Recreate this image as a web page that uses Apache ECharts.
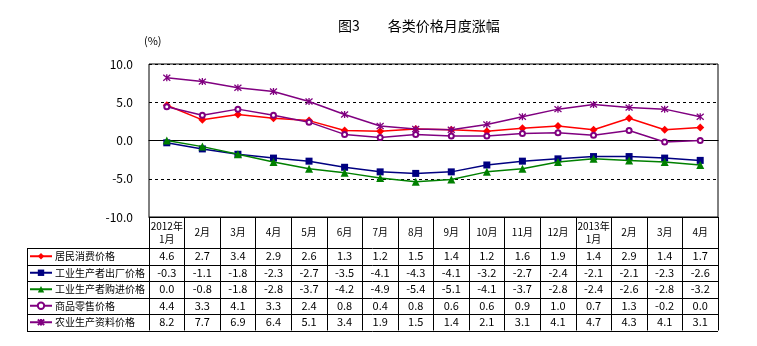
<!DOCTYPE html>
<html>
<head>
<meta charset="utf-8">
<script src="https://cdn.jsdelivr.net/npm/echarts@6/dist/echarts.min.js"></script>
<style>
  html, body { margin: 0; padding: 0; background: #fff; }
  #chart { width: 757px; height: 346px; }
</style>
</head>
<body>
<div id="chart"></div>
<script>
// Monthly year-on-year change of price indices, Jan 2012 – Apr 2013 (%)
const categories = ['2012年\n1月', '2月', '3月', '4月', '5月', '6月', '7月', '8月', '9月', '10月', '11月', '12月', '2013年\n1月', '2月', '3月', '4月'];

const seriesNames = ['居民消费价格', '工业生产者出厂价格', '工业生产者购进价格', '商品零售价格', '农业生产资料价格'];

const cpi    = [4.6, 2.7, 3.4, 2.9, 2.6, 1.3, 1.2, 1.5, 1.4, 1.2, 1.6, 1.9, 1.4, 2.9, 1.4, 1.7];
const ppi    = [-0.3, -1.1, -1.8, -2.3, -2.7, -3.5, -4.1, -4.3, -4.1, -3.2, -2.7, -2.4, -2.1, -2.1, -2.3, -2.6];
const ppirm  = [0.0, -0.8, -1.8, -2.8, -3.7, -4.2, -4.9, -5.4, -5.1, -4.1, -3.7, -2.8, -2.4, -2.6, -2.8, -3.2];
const retail = [4.4, 3.3, 4.1, 3.3, 2.4, 0.8, 0.4, 0.8, 0.6, 0.6, 0.9, 1.0, 0.7, 1.3, -0.2, 0.0];
const agri   = [8.2, 7.7, 6.9, 6.4, 5.1, 3.4, 1.9, 1.5, 1.4, 2.1, 3.1, 4.1, 4.7, 4.3, 4.1, 3.1];

const yTicks = [-10, -5, 0, 5, 10];

const allValues = [cpi, ppi, ppirm, retail, agri];

// layout of plot area and the data table beneath it
const W = 757, H = 346;
const plotLeft = 149, plotRight = 718, plotTop = 64, plotBottom = 217;
const headerH = 31;
const rowH = 16.5;
const tableLeft = 27;
const rowTop0 = plotBottom + headerH;
const tableBottom = rowTop0 + rowH * seriesNames.length;

const FONT = '"Noto Sans CJK SC", "Noto Sans", sans-serif';

const asterisk = 'path://M0,0L10,10M10,0L0,10M5,-1L5,11';

const styles = [
  { color: '#FF0000', symbol: 'diamond', size: 8 },
  { color: '#000080', symbol: 'rect', size: 7 },
  { color: '#008000', symbol: 'triangle', size: 8 },
  { color: '#800080', symbol: 'emptyCircle', size: 5 },
  { color: '#800080', symbol: asterisk, size: 7 }
];

const series = seriesNames.map((name, i) => {
  const st = styles[i];
  const s = {
    name: name,
    type: 'line',
    xAxisIndex: 0,
    yAxisIndex: 0,
    data: allValues[i],
    symbol: st.symbol,
    symbolSize: st.size,
    showAllSymbol: true,
    lineStyle: { color: st.color, width: 1.5, type: 'solid' },
    itemStyle: { color: st.color },
    animation: false,
    z: 3 + i
  };
  if (st.symbol === 'emptyCircle') {
    s.itemStyle = { color: st.color, borderWidth: 1 };
  }
  if (st.symbol === asterisk) {
    s.itemStyle = { color: st.color, borderColor: st.color, borderWidth: 1.3 };
  }
  return s;
});

// x axes: header row (with table grid ticks), zero line, and one label row per series
const xAxes = [
  {
    type: 'category',
    gridIndex: 0,
    data: categories,
    position: 'bottom',
    boundaryGap: true,
    axisLine: { onZero: false, lineStyle: { color: '#000', width: 1 } },
    axisTick: { show: true, length: tableBottom - plotBottom, lineStyle: { color: '#000', width: 1 } },
    axisLabel: {
      interval: 0, margin: headerH / 2, verticalAlign: 'middle',
      fontSize: 10, lineHeight: 13, color: '#000', fontFamily: FONT
    },
    splitLine: { show: false }
  },
  {
    type: 'category',
    gridIndex: 0,
    data: categories,
    position: 'bottom',
    axisLine: { onZero: true, lineStyle: { color: '#000', width: 1.2 } },
    axisTick: { show: false },
    axisLabel: { show: false },
    splitLine: { show: false }
  }
];

allValues.forEach((vals, i) => {
  xAxes.push({
    type: 'category',
    gridIndex: 0,
    data: vals.map(v => v.toFixed(1)),
    position: 'bottom',
    axisLine: { show: false, onZero: false },
    axisTick: { show: false },
    axisLabel: {
      interval: 0,
      margin: headerH + rowH * i + rowH / 2,
      verticalAlign: 'middle',
      fontSize: 11, color: '#000', fontFamily: FONT
    },
    splitLine: { show: false }
  });
});

// one legend per table row, sitting in the left column
const legends = seriesNames.map((name, i) => ({
  data: [name],
  left: tableLeft + 2,
  top: rowTop0 + rowH * i + (rowH - 12) / 2,
  padding: 0,
  orient: 'horizontal',
  itemWidth: 22,
  itemHeight: 8,
  itemGap: 0,
  selectedMode: false,
  textStyle: { fontSize: 10, lineHeight: 12, color: '#000', fontFamily: FONT, padding: [0, 0, 0, -2] }
}));

// horizontal rules and left edge of the data table
const tableLines = [];
for (let r = 0; r <= seriesNames.length; r++) {
  const y = Math.round(rowTop0 + rowH * r) + 0.5;
  tableLines.push({
    type: 'line',
    shape: { x1: tableLeft, y1: y, x2: plotRight, y2: y },
    style: { stroke: '#000', lineWidth: 1 },
    silent: true
  });
}
tableLines.push({
  type: 'line',
  shape: { x1: tableLeft + 0.5, y1: Math.round(rowTop0) + 0.5, x2: tableLeft + 0.5, y2: Math.round(tableBottom) + 0.5 },
  style: { stroke: '#000', lineWidth: 1 },
  silent: true
});

const chart = echarts.init(document.getElementById('chart'), null, { renderer: 'canvas', width: W, height: H });

chart.setOption({
  backgroundColor: '#fff',
  animation: false,
  textStyle: { fontFamily: FONT },
  title: {
    text: '图3\u3000\u3000各类价格月度涨幅',
    left: 333,
    top: 14,
    textStyle: { fontSize: 14, fontWeight: 'normal', color: '#000', fontFamily: FONT }
  },
  grid: {
    left: plotLeft,
    right: W - plotRight,
    top: plotTop,
    bottom: H - plotBottom,
    show: true,
    borderColor: '#000',
    borderWidth: 1,
    containLabel: false
  },
  legend: legends,
  xAxis: xAxes,
  yAxis: {
    type: 'value',
    min: yTicks[0],
    max: yTicks[yTicks.length - 1],
    interval: 5,
    name: '(%)',
    nameLocation: 'end',
    nameGap: 18,
    nameTextStyle: { fontSize: 11, color: '#000', align: 'left', padding: [0, 0, 0, -5] },
    axisLine: { show: false },
    axisTick: { show: false },
    axisLabel: {
      margin: 16,
      fontSize: 12,
      color: '#000',
      fontFamily: FONT,
      formatter: v => v.toFixed(1)
    },
    splitLine: { show: true, lineStyle: { color: '#000', type: [3, 3], width: 1 } }
  },
  graphic: tableLines,
  series: series
});
</script>
</body>
</html>
